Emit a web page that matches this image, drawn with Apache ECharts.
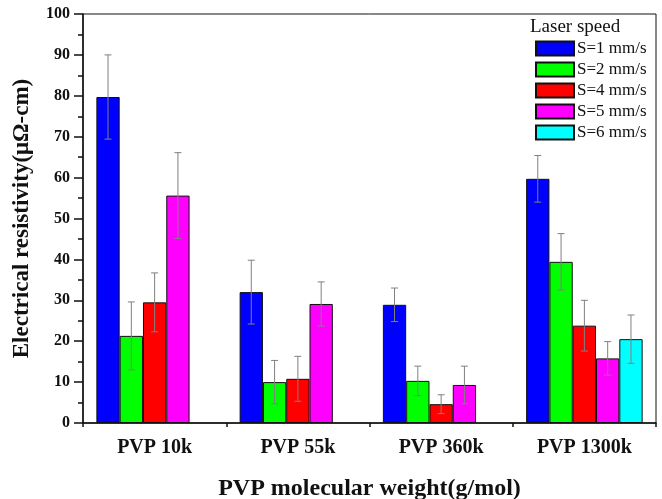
<!DOCTYPE html>
<html>
<head>
<meta charset="utf-8">
<title>Electrical resistivity vs PVP molecular weight</title>
<script src="https://cdn.jsdelivr.net/npm/echarts@6/dist/echarts.min.js"></script>
<style>
  html, body { margin: 0; padding: 0; background: #fff; }
  #chart { width: 662px; height: 499px; }
</style>
</head>
<body>
<div id="chart"></div>
<script>
// PVP molecular weight groups
const categories = ['PVP 10k', 'PVP 55k', 'PVP 360k', 'PVP 1300k'];

// Laser speed series names
const seriesNames = ['S=1 mm/s', 'S=2 mm/s', 'S=4 mm/s', 'S=5 mm/s', 'S=6 mm/s'];
const seriesColors = ['#0000ff', '#00ff00', '#ff0000', '#ff00ff', '#00ffff'];

// Mean resistivity (µΩ·cm) for each laser speed
const s1Mean = [79.7, 32.0, 28.9, 59.7];
const s2Mean = [21.3, 10.0, 10.3, 39.4];
const s4Mean = [29.5, 10.8, 4.6, 23.8];
const s5Mean = [55.6, 29.1, 9.3, 15.8];
const s6Mean = [null, null, null, 20.5];

// Standard deviation for each mean
const s1Err = [10.3, 7.8, 4.1, 5.7];
const s2Err = [8.3, 5.3, 3.6, 6.9];
const s4Err = [7.2, 5.5, 2.3, 6.2];
const s5Err = [10.5, 5.4, 4.6, 4.1];
const s6Err = [null, null, null, 5.9];

// Y axis ticks
const yMin = 0, yMax = 100, yStep = 10;

const means = [s1Mean, s2Mean, s4Mean, s5Mean, s6Mean];
const errs = [s1Err, s2Err, s4Err, s5Err, s6Err];

const serif = "'Liberation Serif', 'Times New Roman', serif";
const BAR_W = 23.3;
const CAP = 3.5;

const barSeries = means.map((vals, k) => ({
  name: seriesNames[k],
  type: 'bar',
  data: vals,
  barWidth: BAR_W,
  barGap: '0%',
  itemStyle: { color: seriesColors[k], borderColor: '#111', borderWidth: 1 },
  emphasis: { disabled: true },
  z: 2
}));

// Whiskers drawn on top of each bar, shifted to that bar's slot
const errSeries = means.map((vals, k) => ({
  name: seriesNames[k] + ' err',
  type: 'custom',
  silent: true,
  z: 5,
  data: vals.map((v, i) => v == null ? null : [i, v - errs[k][i], v + errs[k][i]]).filter(d => d),
  renderItem: function (params, api) {
    const nBars = means.length;
    const off = (k - (nBars - 1) / 2) * BAR_W;
    const lo = api.coord([api.value(0), api.value(1)]);
    const hi = api.coord([api.value(0), api.value(2)]);
    const x = lo[0] + off;
    const style = { stroke: '#808080', lineWidth: 1, fill: null };
    return {
      type: 'group',
      children: [
        { type: 'line', shape: { x1: x, y1: hi[1], x2: x, y2: lo[1] }, style },
        { type: 'line', shape: { x1: x - CAP, y1: hi[1], x2: x + CAP, y2: hi[1] }, style },
        { type: 'line', shape: { x1: x - CAP, y1: lo[1], x2: x + CAP, y2: lo[1] }, style }
      ]
    };
  }
}));

const chart = echarts.init(document.getElementById('chart'), null, { renderer: 'canvas' });

chart.setOption({
  backgroundColor: '#fff',
  animation: false,
  textStyle: { fontFamily: serif, color: '#111' },
  title: {
    text: 'Laser speed',
    left: 525,
    top: 13,
    textStyle: { fontFamily: serif, fontSize: 19, fontWeight: 'normal', color: '#111' }
  },
  legend: {
    orient: 'vertical',
    left: 530,
    top: 35,
    icon: 'rect',
    itemWidth: 38,
    itemHeight: 14,
    itemGap: 4,
    data: seriesNames,
    textStyle: { fontFamily: serif, fontSize: 17, color: '#111', padding: [0, 0, 0, -2] }
  },
  grid: {
    left: 83, right: 6, top: 14, bottom: 76,
    outerBoundsMode: 'none',
    containLabel: false,
    show: true, borderColor: '#111', borderWidth: 1
  },
  xAxis: [
    {
      type: 'category',
      data: categories,
      name: 'PVP molecular weight(g/mol)',
      nameLocation: 'middle',
      nameGap: 54,
      nameTextStyle: { fontFamily: serif, fontSize: 24, fontWeight: 'bold', color: '#111' },
      axisLine: { lineStyle: { color: '#111', width: 1.5 } },
      axisTick: { alignWithLabel: true, length: 7, lineStyle: { color: '#111', width: 1.5 } },
      axisLabel: { fontFamily: serif, fontSize: 20, fontWeight: 'bold', color: '#111', margin: 15 }
    },
    {
      // boundary ticks between groups
      type: 'category',
      data: categories,
      position: 'bottom',
      axisLine: { show: false },
      axisTick: { show: true, length: 4, lineStyle: { color: '#111', width: 1.5 } },
      axisLabel: { show: false }
    }
  ],
  yAxis: {
    type: 'value',
    min: yMin, max: yMax, interval: yStep,
    name: 'Electrical resistivity(μΩ-cm)',
    nameLocation: 'middle',
    nameGap: 49,
    nameTextStyle: { fontFamily: serif, fontSize: 23, fontWeight: 'bold', color: '#111' },
    axisLine: { show: true, lineStyle: { color: '#111', width: 1.5 } },
    axisTick: { show: true, length: 9, lineStyle: { color: '#111', width: 1.5 } },
    minorTick: { show: true, splitNumber: 2, length: 5, lineStyle: { color: '#111', width: 1.5 } },
    splitLine: { show: false },
    axisLabel: { fontFamily: serif, fontSize: 16, fontWeight: 'bold', color: '#111', margin: 13 }
  },
  series: barSeries.concat(errSeries)
});
</script>
</body>
</html>
